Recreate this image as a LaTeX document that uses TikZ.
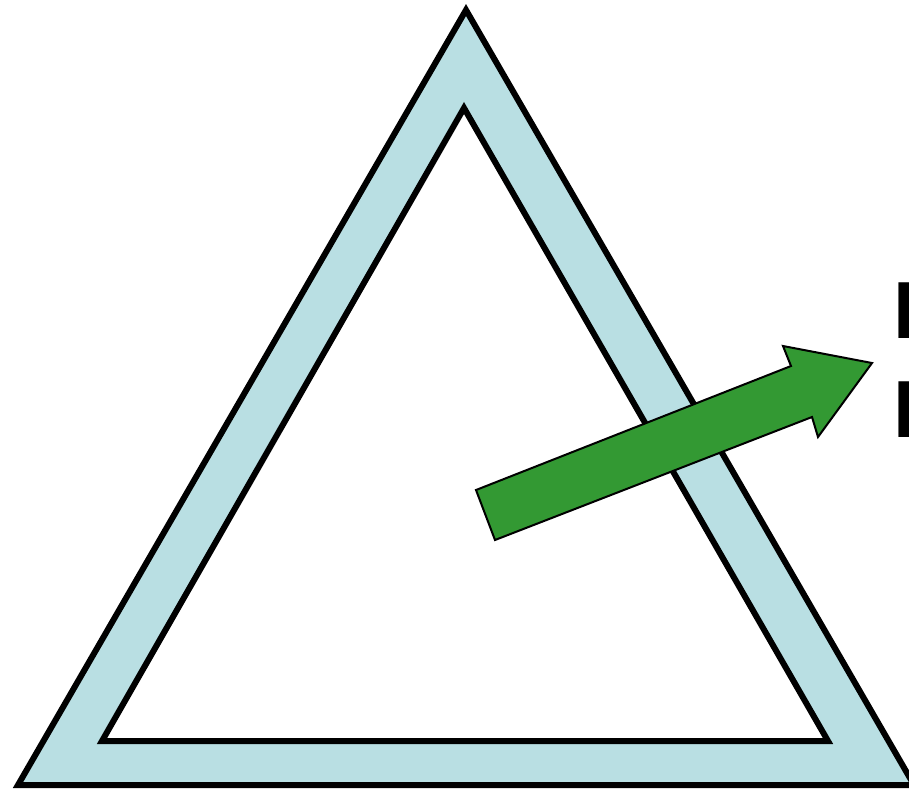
\documentclass[tikz,border=0pt]{standalone}
\usepackage{fontspec}
\setmainfont{Liberation Sans}
\definecolor{ringblue}{HTML}{B9DFE3}
\definecolor{arrowgreen}{HTML}{339933}
\tikzset{
  outline/.style={draw=black, line width=6pt, line join=miter},
  bigarrow/.style={draw=black, fill=arrowgreen, line width=2pt, line join=miter},
  cuttext/.style={anchor=base west, inner sep=0pt, font=\bfseries\fontsize{81}{97}\selectfont}
}
\begin{document}
\begin{tikzpicture}[x=1pt, y=-1pt]
\path[use as bounding box] (0,0) rectangle (909,788);
% outer ring fill
\fill[ringblue, even odd rule] (466,10) -- (18,785) -- (914,785) -- cycle
                               (464,108) -- (102,741) -- (828,741) -- cycle;
\draw[outline] (466,10) -- (18,785) -- (914,785) -- cycle;
\draw[outline, fill=white] (464,108) -- (102,741) -- (828,741) -- cycle;
% green arrow
\draw[bigarrow] (476,490) -- (791,366) -- (783,346) -- (872,363) -- (818,437)
                -- (812,417) -- (495,540) -- cycle;
% cut-off text at the right edge
\node[cuttext] (t1) at (893.5,338) {I};
\node[cuttext] (t2) at (893.5,437) {I};
\end{tikzpicture}
\end{document}
